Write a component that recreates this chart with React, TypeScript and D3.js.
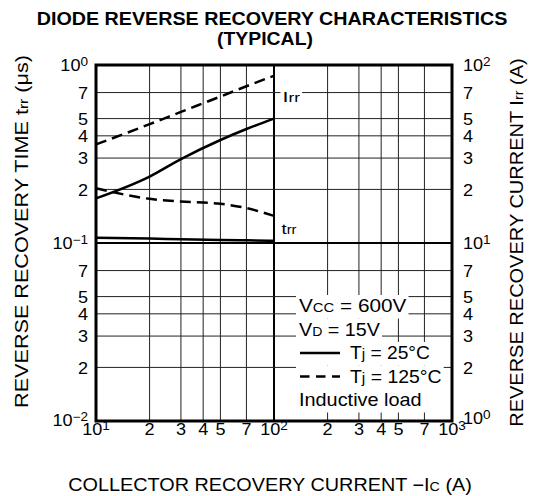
import React, { useEffect, useRef } from 'react';
import * as d3 from 'd3';

// ---- data ----
const currents = [10, 20, 30, 50, 70, 100];
const irr25 = [17.8, 23.6, 29.6, 37.9, 43.7, 50];
const irr125 = [35.8, 46.5, 54.5, 66.5, 76, 87];
const trr25 = [0.107, 0.106, 0.105, 0.104, 0.1035, 0.103];
const trr125 = [0.203, 0.177, 0.171, 0.166, 0.157, 0.142];

const xTickValues = [10, 20, 30, 40, 50, 70, 100, 200, 300, 400, 500, 700, 1000];
const xTickLabels = ['10^1', '2', '3', '4', '5', '7', '10^2', '2', '3', '4', '5', '7', '10^3'];
const leftTickValues = [0.01, 0.02, 0.03, 0.04, 0.05, 0.07, 0.1, 0.2, 0.3, 0.4, 0.5, 0.7, 1];
const leftTickLabels = ['10^−2', '2', '3', '4', '5', '7', '10^−1', '2', '3', '4', '5', '7', '10^0'];
const rightTickValues = [1, 2, 3, 4, 5, 7, 10, 20, 30, 40, 50, 70, 100];
const rightTickLabels = ['10^0', '2', '3', '4', '5', '7', '10^1', '2', '3', '4', '5', '7', '10^2'];
const majorX = [100];
const majorY = [0.1];

const FONT = '"Liberation Sans", Arial, Helvetica, sans-serif';

type Part = [string, number, number?]; // text, font size, dy

export default function App() {
  const ref = useRef<SVGSVGElement | null>(null);

  useEffect(() => {
    const svg = d3.select(ref.current);
    svg.selectAll('*').remove();

    const L = 96, R = 452, T = 65, B = 421;
    const x = d3.scaleLog().domain([10, 1000]).range([L, R]);
    const yL = d3.scaleLog().domain([0.01, 1]).range([B, T]);
    const yR = d3.scaleLog().domain([1, 100]).range([B, T]);

    const root = svg.append('g').attr('font-family', FONT).attr('fill', '#000');

    const makeText = (
      parent: any, parts: Part[],
      o: { x: number; y: number; anchor?: string; rotate?: boolean; target?: number; factor?: number; weight?: string }
    ) => {
      const g = parent.append('g');
      const t = g.append('text').attr('text-anchor', o.anchor || 'start');
      if (o.weight) t.attr('font-weight', o.weight);
      parts.forEach(([s, fs, dy]) => {
        const sp = t.append('tspan').attr('font-size', fs).text(s);
        if (dy) sp.attr('dy', dy);
      });
      const w = (t.node() as SVGTextElement).getComputedTextLength();
      const k = o.target ? o.target / w : (o.factor ?? 1);
      g.attr('transform', `translate(${o.x},${o.y})${o.rotate ? ' rotate(-90)' : ''} scale(${k},1)`);
      return { g, width: w * k };
    };

    // grid
    const grid = root.append('g');
    xTickValues.slice(1, -1).forEach(v => {
      const major = majorX.includes(v);
      grid.append('line')
        .attr('x1', x(v)).attr('x2', x(v)).attr('y1', T).attr('y2', B)
        .attr('stroke', major ? '#000' : '#222').attr('stroke-width', major ? 2 : 1);
    });
    leftTickValues.slice(1, -1).forEach(v => {
      const major = majorY.includes(v);
      grid.append('line')
        .attr('x1', L).attr('x2', R).attr('y1', yL(v)).attr('y2', yL(v))
        .attr('stroke', major ? '#000' : '#222').attr('stroke-width', major ? 2 : 1);
    });

    // curves
    const curve = (vals: number[], ys: d3.ScaleLogarithmic<number, number>) =>
      d3.line<number>()
        .x((_, i) => x(currents[i]))
        .y(d => ys(d))
        .curve(d3.curveMonotoneX)(vals);
    const curves = root.append('g').attr('fill', 'none').attr('stroke', '#000').attr('stroke-width', 2.5);
    curves.append('path').attr('d', curve(irr25, yR)!);
    curves.append('path').attr('d', curve(irr125, yR)!).attr('stroke-dasharray', '11,6');
    curves.append('path').attr('d', curve(trr25, yL)!);
    curves.append('path').attr('d', curve(trr125, yL)!).attr('stroke-dasharray', '11,6');

    // curve labels with white background
    const bgLabel = (px: number, py: number, parts: Part[], target: number) => {
      const { g, width } = makeText(root, parts, { x: px, y: py, target });
      root.insert('rect', () => g.node()).attr('x', px - 2).attr('y', py - 13).attr('width', width + 4).attr('height', 17).attr('fill', '#fff');
    };
    bgLabel(282.5, 101.5, [['I', 15], ['rr', 12]], 17.5);
    bgLabel(281.5, 233.5, [['t', 15], ['rr', 12]], 15);

    // legend
    const legRows: { parts: Part[]; dash?: boolean; target: number; pad: number }[] = [
      { parts: [['V', 17.5], ['CC', 12.5], [' = 600V', 17.5]], target: 107.5, pad: 2 },
      { parts: [['V', 17.5], ['D', 12.5], [' = 15V', 17.5]], target: 81, pad: 2 },
      { parts: [['T', 17.5], ['j', 14], [' = 25°C', 17.5]], dash: false, target: 80, pad: 2 },
      { parts: [['T', 17.5], ['j', 14], [' = 125°C', 17.5]], dash: true, target: 91.7, pad: 2 },
      { parts: [['Inductive load', 17.5]], target: 122.7, pad: 5 },
    ];
    const legBase = [312, 335.5, 359, 382.5, 406];
    legRows.forEach((row, i) => {
      const by = legBase[i];
      const grp = root.append('g');
      const rect = grp.append('rect').attr('fill', '#fff');
      const tx = row.dash === undefined ? 299 : 350;
      const { width } = makeText(grp, row.parts, { x: tx, y: by, target: row.target });
      if (row.dash !== undefined) {
        grp.append('line').attr('x1', 300).attr('x2', 340).attr('y1', by - 6).attr('y2', by - 6)
          .attr('stroke', '#000').attr('stroke-width', 2.5)
          .attr('stroke-dasharray', row.dash ? '9.5,6.5' : null);
      }
      rect.attr('x', 296).attr('y', by - 17).attr('width', tx + width + row.pad - 296).attr('height', 23.5);
    });

    // frame
    root.append('rect').attr('x', L).attr('y', T).attr('width', R - L).attr('height', B - T)
      .attr('fill', 'none').attr('stroke', '#000').attr('stroke-width', 3);

    // tick labels
    const tickParts = (label: string): Part[] => {
      const [base, sup] = label.split('^');
      const p: Part[] = [[base, 16]];
      if (sup !== undefined) p.push([sup, 12, -5]);
      return p;
    };
    const TF = 1.13;
    xTickValues.forEach((v, i) =>
      makeText(root, tickParts(xTickLabels[i]), { x: x(v), y: 434.5, anchor: 'middle', factor: TF }));
    leftTickValues.forEach((v, i) =>
      makeText(root, tickParts(leftTickLabels[i]), { x: 88, y: yL(v) + (i === 0 ? 4.5 : 6.3), anchor: 'end', factor: TF }));
    rightTickValues.forEach((v, i) =>
      makeText(root, tickParts(rightTickLabels[i]), { x: 463, y: yR(v) + (i === 0 ? 2.5 : 6.3), anchor: 'start', factor: TF }));

    // titles
    makeText(root, [['DIODE REVERSE RECOVERY CHARACTERISTICS', 19]], { x: 272, y: 25, anchor: 'middle', target: 471, weight: 'bold' });
    makeText(root, [['(TYPICAL)', 19]], { x: 265, y: 45, anchor: 'middle', target: 96, weight: 'bold' });

    makeText(root, [['REVERSE RECOVERY TIME  t', 18], ['rr', 13], [' (μs)', 18]],
      { x: 28, y: 231.5, anchor: 'middle', rotate: true, target: 353 });
    makeText(root, [['REVERSE RECOVERY CURRENT  I', 18], ['rr', 13], [' (A)', 18]],
      { x: 523, y: 242.5, anchor: 'middle', rotate: true, target: 369 });
    makeText(root, [['COLLECTOR RECOVERY CURRENT  −I', 18], ['C', 13], [' (A)', 18]],
      { x: 270, y: 491, anchor: 'middle', target: 404 });
  }, []);

  return (
    <svg ref={ref} width={538} height={496}
      style={{ position: 'absolute', left: 0, top: 0, background: '#fff' }} />
  );
}
